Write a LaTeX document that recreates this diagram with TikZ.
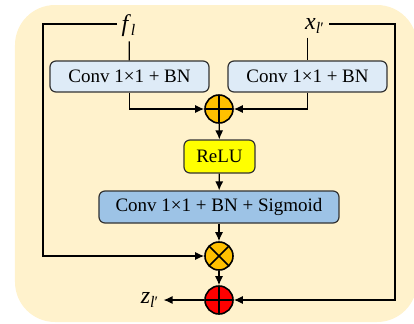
\documentclass[tikz,border=0pt]{standalone}
\usepackage{fontspec}
\setmainfont{Liberation Serif}
\usepackage{tikz}
\usetikzlibrary{arrows.meta,positioning,shapes}
\definecolor{bgcream}{HTML}{FFF2CC}
\definecolor{convblue}{HTML}{DEEBF7}
\definecolor{sigblue}{HTML}{9DC3E6}
\definecolor{opgold}{HTML}{FFC000}
\definecolor{relu}{HTML}{FFFF00}
\tikzset{
  box/.style={draw=black!80, rounded corners=3pt, line width=0.6pt, inner sep=0pt,
    font=\fontsize{9.5}{11}\selectfont},
  oplus/.style={circle, draw, line width=0.8pt, minimum size=14pt, inner sep=0pt,
    path picture={\draw[line width=0.8pt] (path picture bounding box.north) -- (path picture bounding box.south)
      (path picture bounding box.west) -- (path picture bounding box.east);}},
  otimes/.style={circle, draw, line width=0.8pt, minimum size=14pt, inner sep=0pt, fill=opgold,
    path picture={\draw[line width=0.8pt] (path picture bounding box.north west) -- (path picture bounding box.south east)
      (path picture bounding box.south west) -- (path picture bounding box.north east);}},
  lbl/.style={inner sep=2pt, font=\fontsize{12}{14}\selectfont},
  arr/.style={line width=0.6pt, -{Latex[length=4.5pt,width=4pt]}},
  ln/.style={line width=0.6pt}
}

\begin{document}
\begin{tikzpicture}[x=0.5pt,y=-0.5pt]
\useasboundingbox (0,0) rectangle (414,323);
\begin{scope}
\clip (0,0) rectangle (414,323);
\fill[bgcream, rounded corners=20pt] (15,5) rectangle (417,322);
\end{scope}
\node[lbl] (fl) at (129,26) {\textit{f}\textsubscript{\textit{l}}};
\node[lbl] (xl) at (315,26) {\textit{x}\textsubscript{\textit{l}′}};
\node[box, fill=convblue, minimum width=79.5pt, minimum height=15.5pt] (convL) at (129.5,76.5) {Conv 1×1 + BN};
\node[box, fill=convblue, minimum width=79.5pt, minimum height=15.5pt] (convR) at (307.5,76.5) {Conv 1×1 + BN};
\node[oplus, fill=opgold] (add) at (219,109) {};
\node[box, fill=relu, minimum width=35.5pt, minimum height=16.5pt] (act) at (219.5,156.5) {ReLU};
\node[box, fill=sigblue, minimum width=120pt, minimum height=16pt] (sig) at (219,207) {Conv 1×1 + BN + Sigmoid};
\node[otimes] (mul) at (219,256) {};
\node[oplus, fill=red] (res) at (219,300) {};
\node[lbl] (zl) at (150,300) {\textit{z}\textsubscript{\textit{l}′}};
\coordinate (cornerL) at (43,24);
\coordinate (cornerR) at (395,24);
\draw[ln] (fl) -- (convL);
\draw[ln] (convR |- xl.south) -- (convR);
\draw[arr] (convL) |- (add);
\draw[arr] (convR) |- (add);
\draw[arr] (add) -- (act);
\draw[arr] (act) -- (sig);
\draw[arr] (sig) -- (mul);
\draw[arr] (mul) -- (res);
\draw[arr] (res) -- (zl);
\draw[arr] (cornerL -| fl.west) -- (cornerL) |- (mul);
\draw[arr] (cornerR -| xl.east) -- (cornerR) |- (res);
\end{tikzpicture}
\end{document}
